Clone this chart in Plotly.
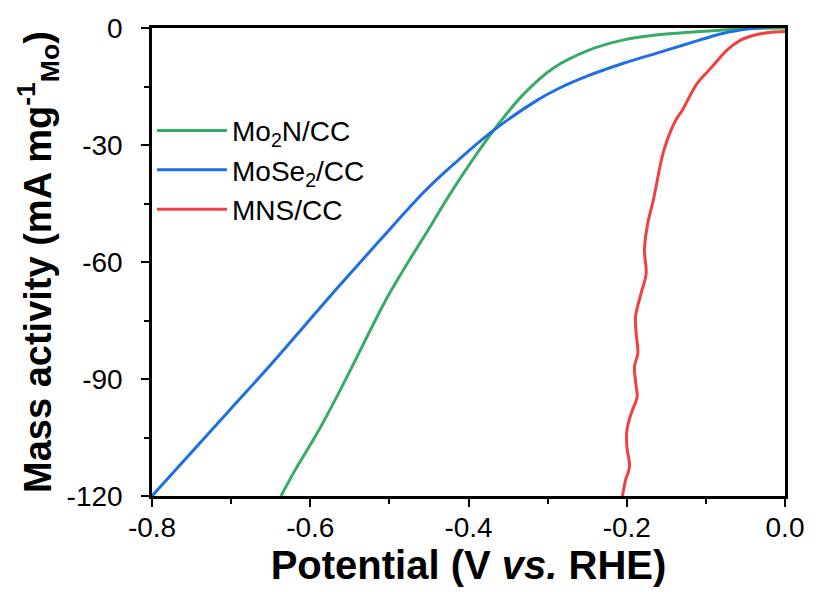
import plotly.graph_objects as go

# MoSe2/CC
mose2_v = [-0.800, -0.702, -0.652, -0.568, -0.510, -0.456, -0.418,
           -0.368, -0.313, -0.288, -0.247, -0.205, -0.163, -0.121, -0.079, -0.046,
           -0.020, 0.000]
mose2_j = [-120.0, -98.0, -86.8, -67.2, -54.0, -42.0, -34.8,
           -26.2, -18.5, -15.7, -12.1, -9.1, -6.5, -3.9, -1.4, -0.2,
           0.3, 0.6]

# Mo2N/CC
mo2n_v = [-0.637, -0.619, -0.589, -0.560, -0.531, -0.506, -0.481, -0.451, -0.420,
          -0.368, -0.330, -0.293, -0.247, -0.205, -0.163, -0.121, -0.079, -0.038, 0.000]
mo2n_j = [-120.0, -113.3, -103.1, -92.0, -80.3, -70.3, -61.6, -51.8, -41.5,
          -26.2, -16.9, -10.3, -5.6, -3.1, -1.8, -1.1, -0.5, -0.1, 0.0]

# MNS/CC
mns_v = [-0.2056, -0.2048, -0.2015, -0.1965, -0.1998, -0.1998, -0.1944, -0.1868, -0.1881,
         -0.1902, -0.1860, -0.1881, -0.1889, -0.1818, -0.1755, -0.1776, -0.1735, -0.1664,
         -0.1530, -0.1380, -0.1295, -0.1230, -0.1110, -0.0920, -0.0730, -0.0560, -0.0380,
         -0.0170, 0.0000]
mns_j = [-120.0, -119.3, -115.9, -112.5, -107.4, -103.1, -98.8, -94.5, -92.0,
         -86.8, -83.4, -78.3, -74.0, -68.0, -62.9, -56.9, -50.1, -44.1,
         -31.3, -23.6, -21.0, -18.5, -14.2, -9.9, -5.6, -3.1, -1.8,
         -1.1, -0.9]

x_ticks = [-0.8, -0.6, -0.4, -0.2, 0.0]
x_tick_labels = ["-0.8", "-0.6", "-0.4", "-0.2", "0.0"]
y_ticks = [0, -30, -60, -90, -120]
y_tick_labels = ["0", "-30", "-60", "-90", "-120"]

FONT = "Liberation Sans, Arial, sans-serif"

fig = go.Figure()
fig.add_trace(go.Scatter(x=mo2n_v, y=mo2n_j, mode="lines", name="Mo<sub>2</sub>N/CC",
                         legendgroup="a",
                         line=dict(color="#3aaa68", width=3, shape="spline", smoothing=1.0)))
fig.add_trace(go.Scatter(x=mose2_v, y=mose2_j, mode="lines", name="MoSe<sub>2</sub>/CC",
                         legendgroup="b",
                         line=dict(color="#1f6fe3", width=3, shape="spline", smoothing=1.0)))
fig.add_trace(go.Scatter(x=mns_v, y=mns_j, mode="lines", name="MNS/CC",
                         legendgroup="c",
                         line=dict(color="#f04040", width=3, shape="spline", smoothing=1.0)))

axis_common = dict(
    showline=True, linecolor="black", linewidth=2.5, mirror=True,
    ticks="outside", ticklen=8, tickwidth=2, tickcolor="black",
    showgrid=False, zeroline=False,
    tickfont=dict(family=FONT, size=28, color="black"),
)

fig.update_layout(
    width=816, height=592,
    margin=dict(l=152, r=26, t=28, b=96),
    plot_bgcolor="white", paper_bgcolor="white",
    xaxis=dict(
        range=[-0.8, 0.0], tickvals=x_ticks, ticktext=x_tick_labels,
        ticklabelstandoff=-3,
        minor=dict(dtick=0.1, ticks="outside", ticklen=5, tickwidth=2, tickcolor="black"),
        title=dict(text="<b>Potential (V <i>vs.</i> RHE)</b>", standoff=0,
                   font=dict(family=FONT, size=40, color="black")),
        **axis_common,
    ),
    yaxis=dict(
        range=[-120, 0], tickvals=y_ticks, ticktext=y_tick_labels,
        ticklabelstandoff=13,
        minor=dict(dtick=15, ticks="outside", ticklen=5, tickwidth=2, tickcolor="black"),
        title=dict(text="<b>Mass activity (mA mg<sup>-1</sup><sub>Mo</sub>)</b>", standoff=4,
                   font=dict(family=FONT, size=38, color="black")),
        **axis_common,
    ),
    legend=dict(
        x=0.0, y=0.834, xanchor="left", yanchor="top",
        bgcolor="rgba(0,0,0,0)", borderwidth=0,
        font=dict(family=FONT, size=28, color="black"),
        tracegroupgap=0, itemwidth=70,
    ),
    showlegend=True,
)

fig.write_html("out.html", post_script="document.body.style.margin='0';",
               config={"displayModeBar": False})
